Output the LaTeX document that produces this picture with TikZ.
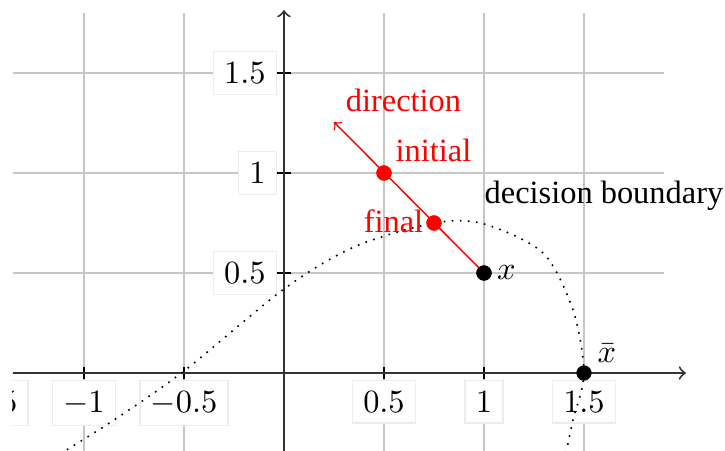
\documentclass[tikz,border=0pt]{standalone}
\usepackage{fontspec}
\newfontfamily\lab{Liberation Serif}
\begin{document}
\begin{tikzpicture}[x=61.7pt,y=61.7pt,
  gridline/.style={gray!45, line width=0.5pt},
  axisline/.style={black!80, line width=0.6pt, ->},
  tickmark/.style={black, line width=0.6pt},
  ticklab/.style={fill=white, draw=gray!15, inner sep=3.33pt},
  dotnode/.style={circle, fill=black, inner sep=0pt, minimum size=4.7pt},
  reddot/.style={dotnode, fill=red},
  redtext/.style={text=red, font=\lab\fontsize{10}{12}\selectfont, inner sep=0pt},
  blacktext/.style={text=black, font=\lab\fontsize{10}{12}\selectfont, inner sep=0pt},
  boundary/.style={dotted, line width=0.5pt},
  dirline/.style={red, line width=0.45pt, ->}
]
\useasboundingbox (-1.42,-0.385) rectangle (2.205,1.865);
\begin{scope}
\clip (-1.355,-0.385) rectangle (2.205,1.865);
% grid
\draw[gridline] (-1.355,-0.4) grid[step=0.5] (1.9,1.8);
% tick labels
\foreach \x [count=\i] in {-1.5,-1,-0.5,0.5,1,1.5}{
  \node[ticklab, anchor=north] (tx\i) at (\x,-0.035) {$\x$};
  \draw[tickmark] (\x,-0.03) -- (\x,0.03);
}
\foreach \y [count=\i] in {0.5,1,1.5}{
  \node[ticklab, anchor=east] (ty\i) at (-0.035,\y) {$\y$};
  \draw[tickmark] (-0.035,\y) -- (0.035,\y);
}
% axes
\coordinate (xa0) at (-1.36,0);
\coordinate (xa1) at (2.01,0);
\coordinate (ya0) at (0,-0.4);
\coordinate (ya1) at (0,1.815);
\draw[axisline] (xa0) -- (xa1);
\draw[axisline] (ya0) -- (ya1);
% decision boundary
\draw[boundary] plot[smooth, tension=0.5] coordinates {
  (-1.12,-0.405) (-0.85,-0.235) (-0.5,0.01) (0,0.42) (0.35,0.63)
  (0.75,0.75) (1.0,0.745) (1.295,0.6) (1.445,0.315) (1.5,0)
  (1.445,-0.235) (1.41,-0.4)};
\end{scope}
% points
\node[dotnode] (x) at (1,0.5) {};
\node[dotnode] (xbar) at (1.5,0) {};
\node[reddot] (fin) at (0.75,0.75) {};
\node[reddot] (ini) at (0.5,1) {};
\coordinate (dir) at (0.25,1.255);
\draw[dirline] (x.center) -- (dir);
\node[dotnode] at (x) {};
\node[reddot] at (fin) {};
\node[reddot] at (ini) {};
% labels
\node[redtext, anchor=base] (ldir) at (0.5975,1.31) {direction};
\node[redtext, anchor=base] (lini) at (0.7475,1.06) {initial};
\node[redtext, anchor=base] (lfin) at (0.5475,0.705) {final};
\node[blacktext, anchor=base] (lbnd) at (1.6,0.85) {decision boundary};
\node[anchor=west, inner sep=0pt] (lx) at (1.062,0.5) {$x$};
\node[anchor=west, inner sep=0pt] (lxbar) at (1.565,0.1) {$\bar{x}$};
\end{tikzpicture}
\end{document}
